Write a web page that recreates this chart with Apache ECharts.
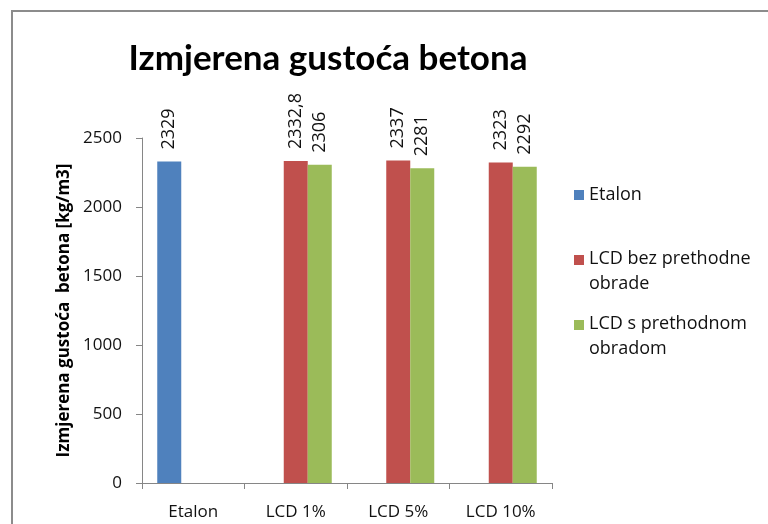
<!DOCTYPE html>
<html>
<head>
<meta charset="utf-8">
<script src="https://cdn.jsdelivr.net/npm/echarts@6/dist/echarts.min.js"></script>
<style>
html,body{margin:0;padding:0;background:#fff;}
#chart{width:768px;height:524px;}
</style>
</head>
<body>
<div id="chart"></div>
<script>
const categories = ['Etalon', 'LCD 1%', 'LCD 5%', 'LCD 10%'];
const seriesNames = ['Etalon', 'LCD bez prethodne obrade', 'LCD s prethodnom obradom'];
const etalonValues = [2329, null, null, null];
const bezValues = [null, 2332.8, 2337, 2323];
const sValues = [null, 2306, 2281, 2292];
const yTicks = [0, 500, 1000, 1500, 2000, 2500];
const titleText = 'Izmjerena gustoća betona';
const yAxisName = 'Izmjerena gustoća  betona [kg/m3]';

const colors = ['#4F81BD', '#C0504D', '#9BBB59'];
const font = 'Open Sans';
const textColor = '#111';

const chart = echarts.init(document.getElementById('chart'));

const labelCfg = {
  show: true,
  position: 'top',
  rotate: 90,
  align: 'left',
  verticalAlign: 'middle',
  distance: 12,
  fontFamily: font,
  fontSize: 18,
  color: textColor,
  formatter: p => (p.value == null ? '' : String(p.value).replace('.', ','))
};

const legendPath = 'path://M0,0L10,0L10,10L0,10Z M0,33L0,33';
const legendText = {fontFamily: font, fontSize: 18, color: textColor, lineHeight: 25};

chart.setOption({
  animation: false,
  color: colors,
  graphic: [{
    type: 'rect',
    shape: {x: 12, y: 11, width: 800, height: 600},
    style: {fill: 'none', stroke: '#8c8c8c', lineWidth: 2},
    silent: true
  }],
  title: {
    text: titleText,
    left: 323,
    top: 36,
    textAlign: 'center',
    textStyle: {fontFamily: 'Lato', fontWeight: 'bold', fontSize: 35, color: '#000'}
  },
  legend: [
    {data: [seriesNames[0]], orient: 'vertical', left: 574, top: 182.5, padding: 0,
     itemWidth: 10, itemHeight: 10, icon: 'rect', itemGap: 7, textStyle: legendText},
    {data: [seriesNames[1]], orient: 'vertical', left: 574, top: 246.5, padding: 0,
     itemWidth: 10, itemHeight: 33, icon: legendPath, itemGap: 7, textStyle: legendText,
     formatter: () => 'LCD bez prethodne\nobrade'},
    {data: [seriesNames[2]], orient: 'vertical', left: 574, top: 311.5, padding: 0,
     itemWidth: 10, itemHeight: 33, icon: legendPath, itemGap: 7, textStyle: legendText,
     formatter: () => 'LCD s prethodnom\nobradom'}
  ],
  grid: {left: 142, right: 216, top: 138, bottom: 41, containLabel: false},
  xAxis: {
    type: 'category',
    data: categories,
    axisLine: {lineStyle: {color: '#868686', width: 1}},
    axisTick: {show: true, length: 6, lineStyle: {color: '#868686'}},
    axisLabel: {fontFamily: font, fontSize: 17, color: textColor, margin: 21}
  },
  yAxis: {
    type: 'value',
    min: yTicks[0],
    max: yTicks[yTicks.length - 1],
    interval: 500,
    name: yAxisName,
    nameLocation: 'middle',
    nameGap: 68,
    nameTextStyle: {fontFamily: font, fontWeight: 'bold', fontSize: 17, color: '#000'},
    axisLine: {show: true, lineStyle: {color: '#868686', width: 1}},
    axisTick: {show: true, length: 6, lineStyle: {color: '#868686'}},
    splitLine: {show: false},
    axisLabel: {fontFamily: font, fontSize: 17, color: textColor, margin: 20,
      formatter: v => String(v)}
  },
  series: [
    {name: seriesNames[0], type: 'bar', data: etalonValues, barWidth: 24, barGap: '0%', label: labelCfg},
    {name: seriesNames[1], type: 'bar', data: bezValues, barWidth: 24, barGap: '0%', label: labelCfg},
    {name: seriesNames[2], type: 'bar', data: sValues, barWidth: 24, barGap: '0%', label: labelCfg}
  ]
});
</script>
</body>
</html>
